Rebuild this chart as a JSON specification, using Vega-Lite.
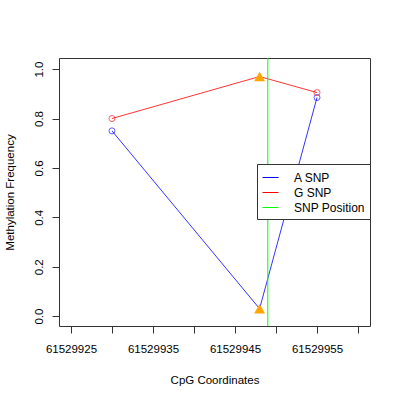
{
  "$schema": "https://vega.github.io/schema/vega-lite/v6.json",
  "width": 311,
  "height": 268,
  "autosize": {"type": "none"},
  "padding": {"left": 59, "top": 58, "right": 30, "bottom": 74},
  "background": "white",
  "config": {
    "view": {"stroke": "#333", "strokeWidth": 1},
    "font": "Liberation Sans",
    "axis": {
      "domain": false,
      "grid": false,
      "tickColor": "#333",
      "tickSize": 7,
      "labelFontSize": 11.5,
      "labelColor": "#000",
      "titleFontSize": 11.5,
      "titleFontWeight": "normal",
      "titleColor": "#000"
    }
  },
  "datasets": {
    "cpg": [
      {"pos": 61529930, "freq": 0.75, "allele": "A SNP"},
      {"pos": 61529948, "freq": 0.03, "allele": "A SNP"},
      {"pos": 61529955, "freq": 0.885, "allele": "A SNP"},
      {"pos": 61529930, "freq": 0.80, "allele": "G SNP"},
      {"pos": 61529948, "freq": 0.97, "allele": "G SNP"},
      {"pos": 61529955, "freq": 0.905, "allele": "G SNP"}
    ],
    "snp": [{"pos": 61529949, "label": "SNP Position"}]
  },
  "layer": [
    {
      "data": {"name": "cpg"},
      "mark": {"type": "line", "strokeWidth": 0.8},
      "encoding": {
        "x": {
          "field": "pos",
          "type": "quantitative",
          "scale": {"domain": [61529923.54, 61529961.46], "nice": false, "zero": false},
          "axis": {
            "title": "CpG Coordinates",
            "values": [61529925, 61529930, 61529935, 61529940, 61529945, 61529950, 61529955, 61529960],
            "labelExpr": "(datum.value - 61529925) % 10 == 0 ? format(datum.value, 'd') : ''",
            "labelPadding": 10,
            "labelFlush": false,
            "labelOverlap": false,
            "titlePadding": 20
          }
        },
        "y": {
          "field": "freq",
          "type": "quantitative",
          "scale": {"domain": [-0.04, 1.045], "nice": false, "zero": false},
          "axis": {
            "title": "Methylation Frequency",
            "values": [0, 0.2, 0.4, 0.6, 0.8, 1.0],
            "format": ".1f",
            "labelAngle": -90,
            "labelAlign": "center",
            "labelBaseline": "bottom",
            "labelPadding": 8,
            "titlePadding": 18
          }
        },
        "color": {
          "field": "allele",
          "type": "nominal",
          "scale": {
            "domain": ["A SNP", "G SNP", "SNP Position"],
            "range": ["#0000ff", "#ff0000", "#00ff00"]
          },
          "legend": {
            "title": null,
            "orient": "none",
            "legendX": 198,
            "legendY": 106,
            "symbolType": "stroke",
            "symbolSize": 256,
            "symbolStrokeWidth": 1,
            "labelFontSize": 12,
            "labelColor": "#000",
            "rowPadding": 0,
            "strokeColor": "#333",
            "fillColor": "white",
            "padding": 5,
            "offset": 0,
            "labelOffset": 15,
            "encode": {
              "symbols": {
                "update": {
                  "stroke": {"scale": "color", "field": "value"},
                  "strokeWidth": {"value": 1},
                  "opacity": {"value": 1}
                }
              }
            }
          }
        }
      }
    },
    {
      "data": {"name": "cpg"},
      "transform": [{"filter": "datum.pos != 61529948"}],
      "mark": {"type": "point", "shape": "circle", "filled": false, "size": 36, "strokeWidth": 0.9},
      "encoding": {
        "x": {"field": "pos", "type": "quantitative"},
        "y": {"field": "freq", "type": "quantitative"},
        "color": {"field": "allele", "type": "nominal", "legend": null}
      }
    },
    {
      "data": {"name": "cpg"},
      "transform": [{"filter": "datum.pos == 61529948"}],
      "mark": {"type": "point", "shape": "triangle-up", "filled": true, "size": 120, "color": "#ffa500", "opacity": 1},
      "encoding": {
        "x": {"field": "pos", "type": "quantitative"},
        "y": {"field": "freq", "type": "quantitative"}
      }
    },
    {
      "data": {"name": "snp"},
      "mark": {"type": "rule", "strokeWidth": 1},
      "encoding": {
        "x": {"field": "pos", "type": "quantitative"},
        "color": {"field": "label", "type": "nominal", "legend": null}
      }
    }
  ]
}
